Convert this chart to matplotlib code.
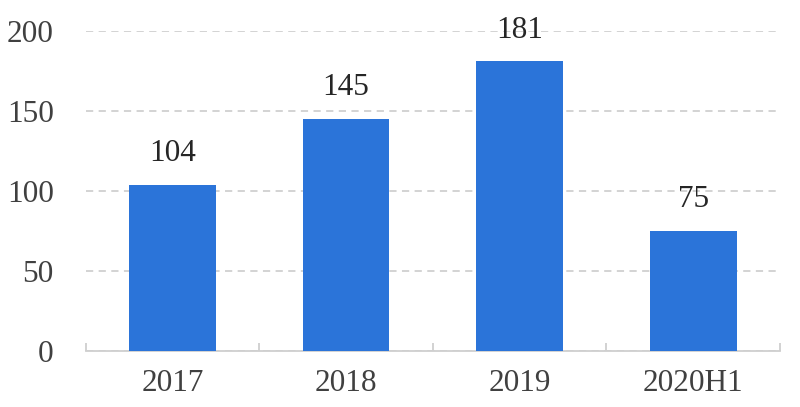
import matplotlib
matplotlib.use("Agg")
import matplotlib.pyplot as plt

categories = ["2017", "2018", "2019", "2020H1"]
values = [104, 145, 181, 75]

plt.rcParams['font.family'] = ['Liberation Serif', 'DejaVu Serif']

fig = plt.figure(figsize=(8, 4.07), dpi=100)
ax = fig.add_axes([0.107, 0.137, 0.868, 0.787])

x = range(len(categories))
bars = ax.bar(x, values, width=0.5, color='#2b74d9', zorder=3)
for xi, v in zip(x, values):
    ax.annotate(str(v), (xi, v), xytext=(0, 12), textcoords='offset points',
                ha='center', va='bottom', fontsize=22.5, color='#262626')

ax.set_xlim(-0.5, len(categories) - 0.5)
ax.set_ylim(0, 200)
ax.set_yticks([0, 50, 100, 150, 200])
ax.yaxis.grid(True, linestyle=(0, (4, 3)), color='#d0d0d0', linewidth=1.3, zorder=0)
ax.set_axisbelow(True)

for s in ['top', 'right', 'left']:
    ax.spines[s].set_visible(False)
ax.spines['bottom'].set_color('#cfcfcf')
ax.spines['bottom'].set_linewidth(1.3)

ax.set_xticks(list(x))
ax.set_xticklabels(categories)
ax.tick_params(axis='x', length=0, pad=13, labelsize=22.5, labelcolor='#404040')
ax.tick_params(axis='y', length=0, pad=23, labelsize=22.5, labelcolor='#404040')

# minor ticks at category boundaries
ax.set_xticks([i - 0.5 for i in range(len(categories) + 1)], minor=True)
ax.tick_params(axis='x', which='minor', direction='in', length=6, color='#cfcfcf', width=1.3)

fig.savefig('out.png', dpi=100)
